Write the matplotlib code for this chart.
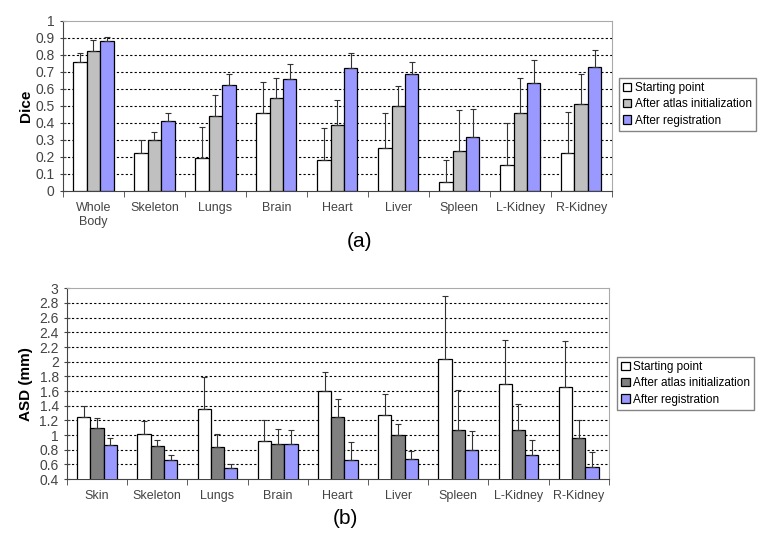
import matplotlib
matplotlib.use("Agg")
import matplotlib.pyplot as plt
import numpy as np

plt.rcParams['font.family'] = ['Liberation Sans', 'DejaVu Sans']

series = ["Starting point", "After atlas initialization", "After registration"]

# (a) Dice
dice_cats = ["Whole\nBody", "Skeleton", "Lungs", "Brain", "Heart", "Liver", "Spleen", "L-Kidney", "R-Kidney"]
dice_start = [0.76, 0.225, 0.195, 0.46, 0.18, 0.25, 0.055, 0.15, 0.225]
dice_atlas = [0.82, 0.30, 0.44, 0.545, 0.385, 0.50, 0.235, 0.46, 0.51]
dice_reg = [0.88, 0.41, 0.625, 0.655, 0.72, 0.69, 0.315, 0.635, 0.73]
dice_start_err = [0.05, 0.075, 0.18, 0.18, 0.19, 0.205, 0.125, 0.25, 0.24]
dice_atlas_err = [0.065, 0.045, 0.125, 0.12, 0.15, 0.115, 0.24, 0.205, 0.18]
dice_reg_err = [0.025, 0.045, 0.065, 0.09, 0.09, 0.065, 0.165, 0.135, 0.10]

# (b) ASD
asd_cats = ["Skin", "Skeleton", "Lungs", "Brain", "Heart", "Liver", "Spleen", "L-Kidney", "R-Kidney"]
asd_start = [1.24, 1.01, 1.35, 0.925, 1.60, 1.27, 2.03, 1.70, 1.65]
asd_atlas = [1.10, 0.85, 0.84, 0.885, 1.25, 1.005, 1.075, 1.075, 0.955]
asd_reg = [0.86, 0.66, 0.55, 0.88, 0.665, 0.675, 0.795, 0.725, 0.57]
asd_start_err = [0.155, 0.185, 0.44, 0.28, 0.255, 0.29, 0.86, 0.595, 0.635]
asd_atlas_err = [0.135, 0.08, 0.18, 0.195, 0.24, 0.15, 0.535, 0.35, 0.255]
asd_reg_err = [0.095, 0.075, 0.055, 0.195, 0.235, 0.115, 0.26, 0.205, 0.205]


def barPanel(ax, cats, vals, errs, colors, ylim, yticks, ylabel):
    x = np.arange(len(cats))
    w = 0.22
    for i, (v, e, c) in enumerate(zip(vals, errs, colors)):
        ax.bar(x + (i - 1) * w, v, w, bottom=0, color=c, edgecolor="black",
               linewidth=0.9, label=series[i], zorder=3,
               yerr=[np.zeros(len(v)), e], capsize=2.5,
               error_kw=dict(ecolor="#333333", elinewidth=0.8, capthick=0.8, zorder=4))
    ax.set_xlim(-0.5, len(cats) - 0.5)
    ax.set_ylim(*ylim)
    ax.set_yticks(yticks)
    ax.set_yticklabels([("%g" % t) for t in yticks])
    for t in yticks[1:-1]:
        ax.axhline(t, color="black", linestyle=(0, (2, 2)), linewidth=0.8, zorder=1)
    ax.set_xticks(x)
    ax.set_xticklabels(cats)
    ax.set_xticks(np.arange(len(cats) + 1) - 0.5, minor=True)
    ax.tick_params(axis="x", which="major", length=0, pad=8, labelsize=9, labelcolor="#444444")
    ax.tick_params(axis="x", which="minor", length=4, direction="out", color="#444444")
    ax.tick_params(axis="y", length=5, direction="inout", labelsize=10, labelcolor="#444444", color="#444444")
    ax.spines["top"].set_color("#aaaaaa")
    ax.spines["right"].set_color("#aaaaaa")
    ax.spines["left"].set_color("#444444")
    ax.spines["bottom"].set_color("#444444")
    ax.set_ylabel(ylabel, fontsize=11, fontweight="bold")


def addLegend(ax, anchor):
    leg = ax.legend(loc="upper left", bbox_to_anchor=anchor, bbox_transform=fig.transFigure,
                    fontsize=8.5, handlelength=0.7, handleheight=0.7, handletextpad=0.3,
                    fancybox=False, edgecolor="#666666", borderaxespad=0, labelspacing=0.35,
                    borderpad=0.35)
    leg.get_frame().set_linewidth(1.0)
    return leg


fig = plt.figure(figsize=(7.62, 5.47), dpi=100)

ax1 = fig.add_axes([0.0827, 0.651, 0.720, 0.311])
barPanel(ax1, dice_cats, [dice_start, dice_atlas, dice_reg],
         [dice_start_err, dice_atlas_err, dice_reg_err],
         ["white", "#c0c0c0", "#9999ff"], (0, 1),
         [round(0.1 * i, 1) for i in range(11)], "Dice")
ax1.yaxis.set_label_coords(-0.055, 0.5)
addLegend(ax1, (0.812, 0.857))
fig.text(0.472, 0.558, "(a)", fontsize=15, ha="center", va="center")

ax2 = fig.add_axes([0.0879, 0.124, 0.711, 0.349])
barPanel(ax2, asd_cats, [asd_start, asd_atlas, asd_reg],
         [asd_start_err, asd_atlas_err, asd_reg_err],
         ["white", "#808080", "#9999ff"], (0.4, 3),
         [round(0.4 + 0.2 * i, 1) for i in range(14)], "ASD (mm)")
ax2.yaxis.set_label_coords(-0.062, 0.5)
addLegend(ax2, (0.810, 0.347))
fig.text(0.453, 0.052, "(b)", fontsize=15, ha="center", va="center")

fig.savefig("out.png", dpi=100)
